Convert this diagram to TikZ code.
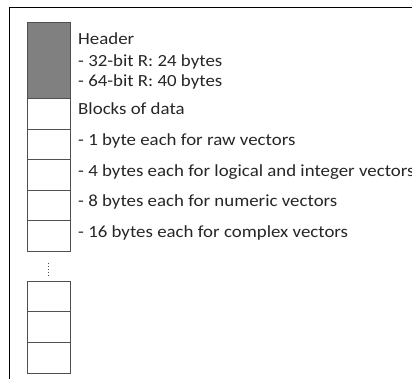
\documentclass[tikz,border=0pt]{standalone}
\usepackage{fontspec}
\setmainfont{Carlito}
\definecolor{hdrgray}{HTML}{808080}
\definecolor{edgegray}{HTML}{505050}
\definecolor{txtgray}{HTML}{262626}
\tikzset{
  cell/.style={draw=edgegray, line width=0.9pt, minimum width=43pt, inner sep=0pt},
  label/.style={anchor=base west, inner sep=0pt, text=txtgray, xscale=1.11, font=\fontsize{17}{20}\selectfont},
  frame/.style={line width=1.3pt}
}
\begin{document}
\begin{tikzpicture}[x=1pt,y=-1pt]
  \useasboundingbox (0,0) rectangle (412,379);
  \draw[frame] (9.5,379) -- (9.5,7.5) -- (412,7.5);
  \node[cell, fill=hdrgray, minimum height=76.5pt] (h) at (48.5,60.5) {};
  \foreach \i/\y in {1/113.75, 2/144.25, 3/174.75, 4/205.25, 5/235.75}
    \node[cell, minimum height=30.5pt] (c\i) at (48.5,\y) {};
  \foreach \i/\y in {1/296.3, 2/327, 3/357.7}
    \node[cell, minimum height=30.7pt] (d\i) at (48.5,\y) {};
  \draw[edgegray, dotted, line width=0.8pt] ([yshift=-12pt]c5.south) -- ([yshift=5pt]d1.north);
  \node[label] (t0) at (78,45) {Header};
  \node[label] (t1) at (78,66.5) {- 32-bit R: 24 bytes};
  \node[label] (t2) at (78,87) {- 64-bit R: 40 bytes};
  \node[label] (t3) at (78,115) {Blocks of data};
  \node[label] (t4) at (78,146) {- 1 byte each for raw vectors};
  \node[label] (t5) at (78,176.5) {- 4 bytes each for logical and integer vectors};
  \node[label] (t6) at (78,207) {- 8 bytes each for numeric vectors};
  \node[label] (t7) at (78,237.5) {- 16 bytes each for complex vectors};
\end{tikzpicture}
\end{document}
